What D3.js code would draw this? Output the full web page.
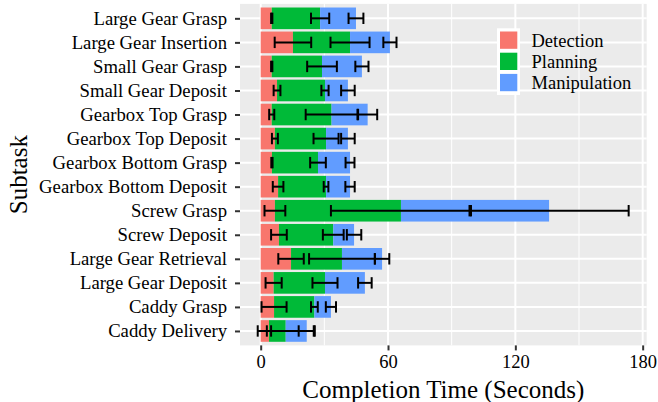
<!DOCTYPE html>
<html>
<head>
<meta charset="utf-8">
<script src="https://cdn.jsdelivr.net/npm/d3@7"></script>
<style>
  html, body { margin: 0; padding: 0; background: #fff; }
  svg { display: block; }
</style>
</head>
<body>
<div id="chart"></div>
<script>
// Subtask timing breakdown: stacked mean durations, error bars at cumulative ends
const subtasks = [
  'Large Gear Grasp', 'Large Gear Insertion', 'Small Gear Grasp', 'Small Gear Deposit',
  'Gearbox Top Grasp', 'Gearbox Top Deposit', 'Gearbox Bottom Grasp', 'Gearbox Bottom Deposit',
  'Screw Grasp', 'Screw Deposit', 'Large Gear Retrieval', 'Large Gear Deposit',
  'Caddy Grasp', 'Caddy Delivery'
];
const phases = ['Detection', 'Planning', 'Manipulation'];

// mean seconds per phase
const detection    = [5.2, 15.2, 5.2, 7.7, 5.2, 6.7, 5.3, 8.2, 6.7, 8.6, 14.3, 6.1, 6.3, 3.9];
const planning     = [22.8, 26.9, 23.7, 22.6, 28.2, 24.1, 21.7, 22.6, 59.4, 25.6, 24.0, 24.2, 19.0, 7.9];
const manipulation = [16.9, 18.8, 18.8, 10.8, 17.0, 10.3, 15.1, 11.3, 69.8, 9.8, 18.9, 18.8, 7.8, 9.9];

// standard deviations (drawn around the cumulative end of each segment)
const detectionSd    = [0.3, 8.6, 0.3, 1.6, 1.2, 1.4, 0.3, 2.5, 4.9, 3.7, 6.0, 3.8, 5.9, 1.0];
const planningSd     = [4.3, 9.2, 7.0, 1.7, 12.2, 5.9, 3.7, 1.1, 33.0, 4.9, 15.5, 5.9, 1.6, 13.2];
const manipulationSd = [3.5, 3.1, 3.1, 3.2, 4.5, 3.2, 2.1, 2.2, 37.5, 3.4, 3.4, 3.2, 2.4, 3.8];

const xTicks = [0, 60, 120, 180];
const xMinor = [30, 90, 150];

const W = 658, H = 402;
const colors = { Detection: '#F8766D', Planning: '#00BA38', Manipulation: '#619CFF' };
const serif = '"Liberation Serif", "Times New Roman", serif';

const rows = subtasks.map((s, i) => ({
  subtask: s,
  Detection: detection[i], Planning: planning[i], Manipulation: manipulation[i],
  sd: [detectionSd[i], planningSd[i], manipulationSd[i]]
}));

const panel = { left: 240, right: 646.7, top: 3.9, bottom: 345.4 };

const x = d3.scaleLinear().domain([-9.75, 181.9]).range([panel.left, panel.right]);
const y = d3.scalePoint().domain(subtasks).range([panel.top, panel.bottom]).padding(0.6);
const barH = y.step() * 0.9;

const svg = d3.select('#chart').append('svg')
  .attr('width', W).attr('height', H)
  .attr('viewBox', `0 0 ${W} ${H}`);

// ---- panel + grid ----
svg.append('rect')
  .attr('x', panel.left).attr('y', panel.top)
  .attr('width', panel.right - panel.left).attr('height', panel.bottom - panel.top)
  .attr('fill', '#EBEBEB');

svg.append('g').selectAll('line')
  .data(xMinor).join('line')
  .attr('x1', d => x(d)).attr('x2', d => x(d))
  .attr('y1', panel.top).attr('y2', panel.bottom)
  .attr('stroke', '#fff').attr('stroke-width', 1);

svg.append('g').selectAll('line')
  .data(xTicks).join('line')
  .attr('x1', d => x(d)).attr('x2', d => x(d))
  .attr('y1', panel.top).attr('y2', panel.bottom)
  .attr('stroke', '#fff').attr('stroke-width', 2);

svg.append('g').selectAll('line')
  .data(subtasks).join('line')
  .attr('x1', panel.left).attr('x2', panel.right)
  .attr('y1', d => y(d)).attr('y2', d => y(d))
  .attr('stroke', '#fff').attr('stroke-width', 2);

// ---- stacked bars ----
const series = d3.stack().keys(phases)(rows);

svg.append('g').selectAll('g')
  .data(series).join('g')
  .attr('fill', d => colors[d.key])
  .selectAll('rect')
  .data(d => d).join('rect')
  .attr('x', d => x(d[0]))
  .attr('width', d => x(d[1]) - x(d[0]))
  .attr('y', d => y(d.data.subtask) - barH / 2)
  .attr('height', barH);

// ---- error bars ----
const errs = [];
series.forEach((s, k) => {
  s.forEach(d => {
    errs.push({ subtask: d.data.subtask, end: d[1], sd: d.data.sd[k] });
  });
});

const capH = 5.7;
const gErr = svg.append('g').attr('stroke', '#000').attr('stroke-width', 2).attr('fill', 'none');
errs.forEach(e => {
  const cy = y(e.subtask);
  const x0 = x(e.end - e.sd), x1 = x(e.end + e.sd);
  gErr.append('line').attr('x1', x0).attr('x2', x1).attr('y1', cy).attr('y2', cy);
  gErr.append('line').attr('x1', x0).attr('x2', x0).attr('y1', cy - capH).attr('y2', cy + capH);
  gErr.append('line').attr('x1', x1).attr('x2', x1).attr('y1', cy - capH).attr('y2', cy + capH);
});

// ---- axes ----
const xAxis = svg.append('g')
  .attr('transform', `translate(0,${panel.bottom})`)
  .call(d3.axisBottom(x).tickValues(xTicks).tickSize(5).tickPadding(4));
xAxis.select('.domain').remove();
xAxis.selectAll('line').attr('stroke', '#333').attr('stroke-width', 2);
xAxis.selectAll('text')
  .attr('font-family', serif).attr('font-size', 18.5).attr('fill', '#000');

const yAxis = svg.append('g')
  .attr('transform', `translate(${panel.left},0)`)
  .call(d3.axisLeft(y).tickSize(5).tickPadding(8));
yAxis.select('.domain').remove();
yAxis.selectAll('line').attr('stroke', '#333').attr('stroke-width', 2);
yAxis.selectAll('text')
  .attr('font-family', serif).attr('font-size', 18.7).attr('fill', '#000');

// axis titles
svg.append('text')
  .attr('x', (panel.left + panel.right) / 2).attr('y', 397.5)
  .attr('text-anchor', 'middle')
  .attr('font-family', serif).attr('font-size', 25).attr('fill', '#000')
  .text('Completion Time (Seconds)');

svg.append('text')
  .attr('transform', `translate(27.3,${(panel.top + panel.bottom) / 2}) rotate(-90)`)
  .attr('text-anchor', 'middle')
  .attr('font-family', serif).attr('font-size', 25).attr('fill', '#000')
  .text('Subtask');

// ---- legend (inside the panel) ----
const legend = svg.append('g');
legend.append('rect')
  .attr('x', 497).attr('y', 28.3).attr('width', 23).attr('height', 66.7)
  .attr('fill', '#fff');
phases.forEach((p, i) => {
  const ky = 31.5 + i * 21.2;
  legend.append('rect')
    .attr('x', 500).attr('y', ky).attr('width', 17.3).attr('height', 17.3)
    .attr('fill', colors[p]);
  legend.append('text')
    .attr('x', 531.5).attr('y', ky + 8.65).attr('dy', '0.35em')
    .attr('font-family', serif).attr('font-size', 18.5).attr('fill', '#000')
    .text(p);
});
</script>
</body>
</html>
